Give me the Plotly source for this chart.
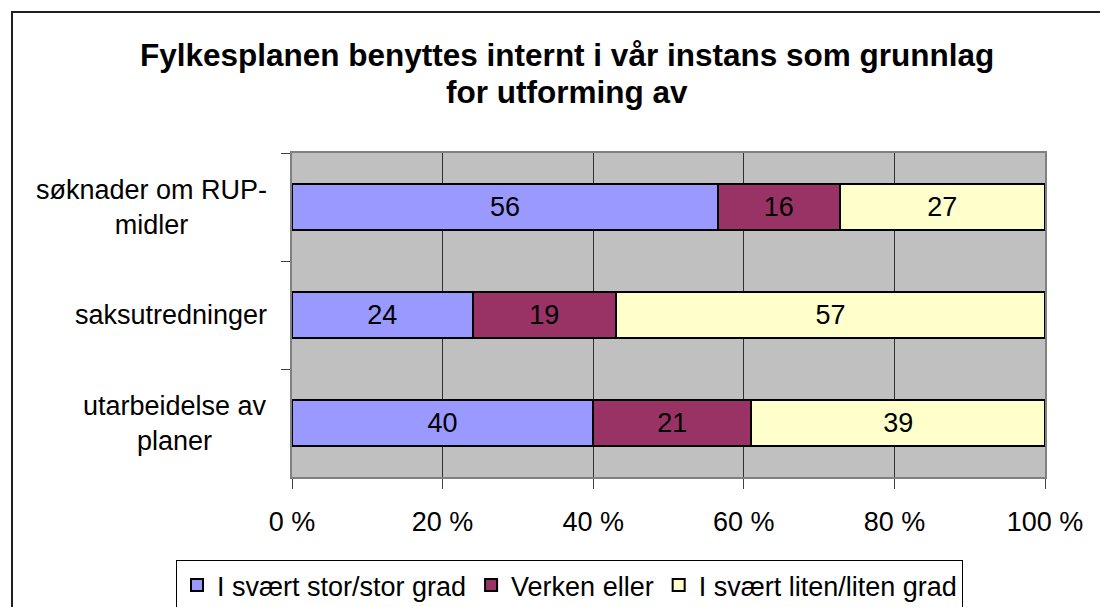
import plotly.graph_objects as go

categories = ["søknader om RUP-midler", "saksutredninger", "utarbeidelse av planer"]
category_labels = ["søknader om RUP-<br>midler", "saksutredninger", "utarbeidelse av<br>planer"]
series_names = ["I svært stor/stor grad", "Verken eller", "I svært liten/liten grad"]
stor = [56, 24, 40]
verken = [16, 19, 21]
liten = [27, 57, 39]
colors = ["#9999FF", "#993366", "#FFFFCC"]
x_ticks = [0, 20, 40, 60, 80, 100]
x_ticktext = ["0 %", "20 %", "40 %", "60 %", "80 %", "100 %"]
title_lines = ["Fylkesplanen benyttes internt i vår instans som grunnlag", "for utforming av"]

# page has an 8px body margin, so the figure is drawn 8px smaller
OFF = 8
W, H = 1108 - OFF, 607 - OFF
L, R, T, B = 292 - OFF, 1045 - OFF, 153 - OFF, 477 - OFF
FONT = "Liberation Sans, Arial"

fig = go.Figure()
for name, vals, col in zip(series_names, [stor, verken, liten], colors):
    fig.add_trace(go.Bar(
        y=categories, x=vals, name=name, orientation="h",
        marker=dict(color=col, line=dict(color="black", width=2)),
        text=[str(v) for v in vals], textposition="inside",
        insidetextanchor="middle", textangle=0,
        textfont=dict(family=FONT, size=27, color="black"),
        constraintext="none",
    ))


def px_x(p):
    return (p - OFF - L) / (R - L)


def px_y(p):
    return (B - (p - OFF)) / (B - T)


annotations = []
for line, yc in zip(title_lines, [55, 92]):
    annotations.append(dict(text="<b>" + line + "</b>",
                            xref="paper", yref="paper", x=px_x(567), y=px_y(yc),
                            xanchor="center", yanchor="middle", showarrow=False,
                            font=dict(family=FONT, size=31.5, color="black")))
for cat, lab in zip(categories, category_labels):
    annotations.append(dict(text=lab, xref="paper", yref="y", x=px_x(269), y=cat,
                            xanchor="right", yanchor="middle", showarrow=False, align="center",
                            font=dict(family=FONT, size=27, color="black")))

# chart-area frame: only the left and top edges are visible in the reference
fx0, fx1 = px_x(12), px_x(1108)
fy0, fy1 = px_y(607), px_y(12)
frame_path = f"M {fx0},{fy0} L {fx0},{fy1} L {fx1},{fy1}"

fig.update_layout(
    width=W, height=H,
    barmode="stack", barnorm="percent", bargap=0.58,
    margin=dict(l=L, r=W - R, t=T, b=H - B, pad=0, autoexpand=False),
    paper_bgcolor="white", plot_bgcolor="#C0C0C0",
    font=dict(family=FONT, size=27, color="black"),
    xaxis=dict(range=[0, 100], tickvals=x_ticks, ticktext=x_ticktext,
               showgrid=True, gridcolor="#303030", gridwidth=1,
               ticks="outside", ticklen=10, tickcolor="#404040",
               ticklabelstandoff=10,
               showline=True, linecolor="#808080", linewidth=2, mirror=True,
               zeroline=False, tickfont=dict(size=27)),
    yaxis=dict(categoryorder="array", categoryarray=categories, autorange="reversed",
               showticklabels=False, ticks="outside", tickson="boundaries", ticklen=9,
               tickcolor="#404040", showgrid=False,
               showline=True, linecolor="#808080", linewidth=2, mirror=True),
    showlegend=True,
    legend=dict(orientation="h", x=px_x(176), y=px_y(560), xanchor="left", yanchor="top",
                bordercolor="black", borderwidth=1, bgcolor="white",
                font=dict(size=27), traceorder="normal", itemwidth=30),
    annotations=annotations,
    shapes=[dict(type="path", xref="paper", yref="paper", path=frame_path,
                 line=dict(color="#202020", width=2), layer="below")],
)

fig.write_html("out.html")
